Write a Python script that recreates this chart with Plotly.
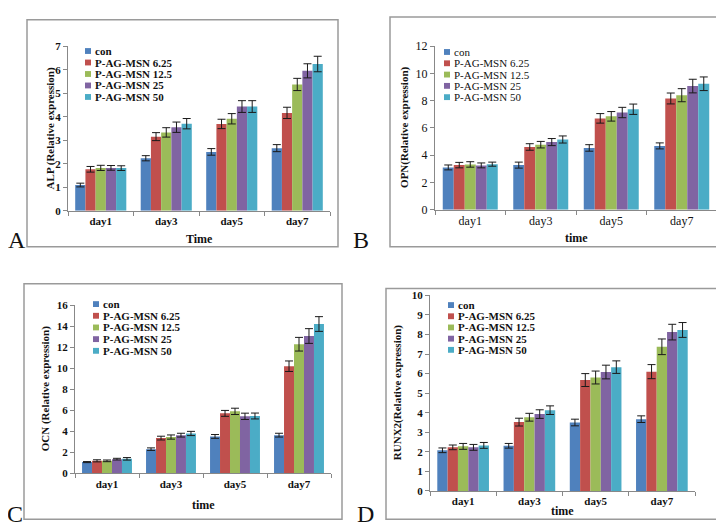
import plotly.graph_objects as go

W, H = 724, 526

days = ["day1", "day3", "day5", "day7"]
series = ["con", "P-AG-MSN 6.25", "P-AG-MSN 12.5", "P-AG-MSN 25", "P-AG-MSN 50"]
colors = ["#4F81BD", "#C0504D", "#9BBB59", "#8064A2", "#4BACC6"]

# ALP (panel A): rows = series, cols = days
alp = [[1.09, 2.23, 2.50, 2.66],
       [1.76, 3.15, 3.69, 4.16],
       [1.82, 3.33, 3.91, 5.37],
       [1.82, 3.55, 4.43, 5.95],
       [1.81, 3.70, 4.43, 6.24]]
alp_err = [[0.08, 0.11, 0.14, 0.15],
           [0.12, 0.17, 0.20, 0.24],
           [0.11, 0.20, 0.22, 0.26],
           [0.10, 0.22, 0.25, 0.30],
           [0.10, 0.22, 0.25, 0.33]]

# OPN (panel B)
opn = [[3.10, 3.27, 4.53, 4.68],
       [3.27, 4.60, 6.70, 8.16],
       [3.32, 4.77, 6.85, 8.40],
       [3.25, 4.96, 7.13, 9.07],
       [3.34, 5.15, 7.37, 9.24]]
opn_err = [[0.18, 0.22, 0.24, 0.22],
           [0.20, 0.24, 0.35, 0.40],
           [0.20, 0.24, 0.35, 0.48],
           [0.18, 0.26, 0.38, 0.50],
           [0.15, 0.26, 0.38, 0.50]]

# OCN (panel C)
ocn = [[1.08, 2.31, 3.52, 3.64],
       [1.20, 3.36, 5.71, 10.19],
       [1.20, 3.46, 5.90, 12.28],
       [1.36, 3.64, 5.43, 13.06],
       [1.39, 3.80, 5.46, 14.20]]
ocn_err = [[0.05, 0.12, 0.18, 0.18],
           [0.10, 0.18, 0.28, 0.50],
           [0.08, 0.20, 0.30, 0.65],
           [0.08, 0.18, 0.30, 0.70],
           [0.12, 0.20, 0.28, 0.70]]

# RUNX2 (panel D)
runx2 = [[2.08, 2.31, 3.50, 3.67],
         [2.23, 3.52, 5.67, 6.10],
         [2.28, 3.77, 5.80, 7.37],
         [2.23, 3.93, 6.08, 8.12],
         [2.33, 4.13, 6.33, 8.23]]
runx2_err = [[0.12, 0.12, 0.17, 0.17],
             [0.12, 0.20, 0.33, 0.36],
             [0.15, 0.20, 0.33, 0.40],
             [0.15, 0.22, 0.35, 0.40],
             [0.15, 0.22, 0.32, 0.38]]

SERIF = "Liberation Serif, Times New Roman, serif"

panels = [
    dict(d=alp, e=alp_err, yt="ALP (Relative expression)", xt="Time", ymax=7, dt=1, bold=True,
         box=(60, 322, 32, 201), frame=(19, 330, 5, 238), leg=(77, 37, 11.8), xt_y=230, yt_x=42),
    dict(d=opn, e=opn_err, yt="OPN(Relative expression)", xt="time", ymax=12, dt=2, bold=False,
         box=(427, 709, 32, 200), frame=(382, 715, 2, 238), leg=(436, 38, 11.6), xt_y=229, yt_x=397),
    dict(d=ocn, e=ocn_err, yt="OCN (Relative expression)", xt="time", ymax=16, dt=2, bold=True,
         box=(67, 323, 298, 471), frame=(16, 334, 276, 518), leg=(85, 297, 12.0), xt_y=503, yt_x=37),
    dict(d=runx2, e=runx2_err, yt="RUNX2(Relative expression)", xt="time", ymax=10, dt=1, bold=True,
         box=(422, 687, 288, 489), frame=(378, 719, 281, 518), leg=(440, 298, 11.5), xt_y=510, yt_x=389),
]

fig = go.Figure()
shapes = []
annotations = []
layout = {}

def px_x(x):
    return x / W

def px_y(y):
    return 1 - y / H

for p_i, p in enumerate(panels):
    n = "" if p_i == 0 else str(p_i + 1)
    xa, ya = "x" + n, "y" + n
    for s_i, name in enumerate(series):
        fig.add_trace(go.Bar(
            x=days, y=p["d"][s_i], name=name, xaxis=xa, yaxis=ya,
            marker=dict(color=colors[s_i], line=dict(width=0)),
            error_y=dict(type="data", array=p["e"][s_i], color="#1a1a1a", thickness=1, width=4),
            showlegend=False,
        ))
    tickfont = dict(family=SERIF, size=11 if p["bold"] else 12, color="#111",
                    weight=700 if p["bold"] else 400)
    legfont = dict(family=SERIF, size=11, color="#111", weight=700 if p["bold"] else 400)
    x0, x1, yt, yb = p["box"]
    layout["xaxis" + n] = dict(
        domain=[px_x(x0), px_x(x1)], anchor=ya, type="category",
        showline=True, linecolor="#888", linewidth=1,
        ticks="outside", tickson="boundaries", ticklen=4, tickcolor="#888",
        tickfont=tickfont, showgrid=False, zeroline=False,
    )
    layout["yaxis" + n] = dict(
        domain=[px_y(yb), px_y(yt)], anchor=xa, range=[0, p["ymax"]], dtick=p["dt"],
        showline=True, linecolor="#888", linewidth=1,
        ticks="outside", ticklen=4, tickcolor="#888",
        tickfont=tickfont, showgrid=False, zeroline=False,
    )
    annotations.append(dict(
        text=p["xt"], x=px_x((x0 + x1) / 2), y=px_y(p["xt_y"]), xref="paper", yref="paper",
        showarrow=False, xanchor="center", yanchor="middle",
        font=dict(family=SERIF, size=12, color="#111", weight=700)))
    annotations.append(dict(
        text=p["yt"], x=px_x(p["yt_x"]), y=px_y((yt + yb) / 2), xref="paper", yref="paper",
        showarrow=False, xanchor="center", yanchor="middle", textangle=-90,
        font=dict(family=SERIF, size=11, color="#111", weight=700)))
    fx0, fx1, fy0, fy1 = p["frame"]
    shapes.append(dict(type="rect", xref="paper", yref="paper",
                       x0=px_x(fx0), x1=px_x(fx1), y0=px_y(fy1), y1=px_y(fy0),
                       line=dict(color="#9a9a9a", width=1.5), fillcolor="rgba(0,0,0,0)", layer="below"))
    lx, ly, st = p["leg"]
    for s_i, name in enumerate(series):
        cy = ly + s_i * st
        shapes.append(dict(type="rect", xref="paper", yref="paper",
                           x0=px_x(lx), x1=px_x(lx + 6), y0=px_y(cy + 3), y1=px_y(cy - 3),
                           fillcolor=colors[s_i], line=dict(width=0)))
        annotations.append(dict(
            text=name, x=px_x(lx + 8), y=px_y(cy), xref="paper", yref="paper",
            showarrow=False, xanchor="left", yanchor="middle", font=legfont))

letters = [("A", 9, 231), ("B", 353, 231), ("C", 7, 513), ("D", 357, 513)]
for t, lx, ly in letters:
    annotations.append(dict(text=t, x=px_x(lx), y=px_y(ly), xref="paper", yref="paper",
                            showarrow=False, xanchor="center", yanchor="middle",
                            font=dict(family=SERIF, size=24, color="#111")))

fig.update_layout(
    width=W, height=H, margin=dict(l=0, r=0, t=0, b=0),
    paper_bgcolor="white", plot_bgcolor="white",
    barmode="group", bargap=0.22, bargroupgap=0,
    shapes=shapes, annotations=annotations, showlegend=False,
    **layout,
)

fig.write_html("out.html")
